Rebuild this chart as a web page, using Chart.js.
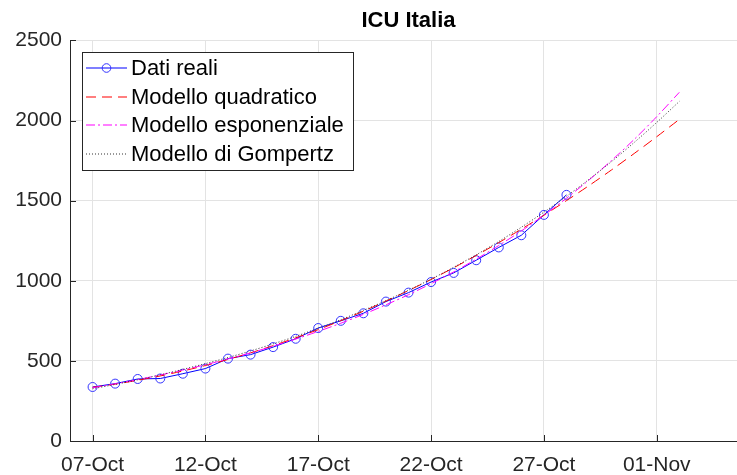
<!DOCTYPE html>
<html>
<head>
<meta charset="utf-8">
<title>ICU Italia</title>
<script src="https://cdn.jsdelivr.net/npm/chart.js@4"></script>
<style>
    html, body { margin: 0; padding: 0; background: #ffffff; overflow: hidden; }
    #wrap { width: 760px; height: 475px; }
</style>
</head>
<body>
<div id="wrap"><canvas id="icuChart" width="760" height="475"></canvas></div>
<script>
/* ===========================================
   DATA (day 0 = 07-Oct)
=========================================== */

const tickDays = [0, 5, 10, 15, 20, 25];
const tickLabels = ["07-Oct", "12-Oct", "17-Oct", "22-Oct", "27-Oct", "01-Nov"];
const yTicks = [0, 500, 1000, 1500, 2000, 2500];

// 07-Oct .. 28-Oct
const realValues = [
    337, 358, 387, 390, 420, 452, 514, 539, 586, 638, 705,
    750, 797, 870, 926, 992, 1049, 1128, 1208, 1284, 1411, 1536
];

// 07-Oct .. 02-Nov
const quadValues = [
    335, 355, 379, 406, 437, 471, 509, 550, 595, 644, 695, 751, 810, 873,
    939, 1008, 1081, 1158, 1238, 1322, 1409, 1500, 1594, 1692, 1794, 1899, 2007
];

const expValues = [
    332, 357, 383, 412, 443, 476, 512, 550, 592, 636, 684, 735, 790, 850,
    913, 982, 1055, 1135, 1220, 1311, 1409, 1515, 1629, 1751, 1882, 2024, 2176
];

const gompValues = [
    326, 353, 382, 413, 447, 483, 521, 562, 606, 653, 704, 757, 815, 876,
    941, 1010, 1084, 1162, 1245, 1334, 1428, 1527, 1633, 1744, 1863, 1988, 2119
];

const toPoints = (arr) => arr.map((v, i) => ({ x: i, y: v }));

/* ===========================================
   PLUGINS
=========================================== */

const axisColor = "#262626";
const fontFamily = "'Liberation Sans', Arial, Helvetica, sans-serif";

// MATLAB style inward tick marks
const innerTicks = {
    id: "innerTicks",
    afterDatasetsDraw(chart) {
        const ctx = chart.ctx;
        const area = chart.chartArea;
        const xs = chart.scales.x;
        const ys = chart.scales.y;
        ctx.save();
        ctx.strokeStyle = axisColor;
        ctx.lineWidth = 1;
        ctx.beginPath();
        tickDays.forEach((d) => {
            const px = Math.round(xs.getPixelForValue(d)) + 0.5;
            ctx.moveTo(px, area.bottom);
            ctx.lineTo(px, area.bottom - 6);
        });
        yTicks.forEach((v) => {
            const py = Math.round(ys.getPixelForValue(v)) + 0.5;
            ctx.moveTo(area.left, py);
            ctx.lineTo(area.left + 6, py);
        });
        ctx.stroke();
        ctx.restore();
    }
};

// boxed legend in the upper left corner
const boxLegend = {
    id: "boxLegend",
    afterDraw(chart) {
        const ctx = chart.ctx;
        const left = 82, top = 52, w = 271, h = 118;
        ctx.save();
        ctx.fillStyle = "#ffffff";
        ctx.fillRect(left, top, w, h);
        ctx.strokeStyle = axisColor;
        ctx.lineWidth = 1;
        ctx.strokeRect(left + 0.5, top + 0.5, w, h);

        ctx.font = "22px " + fontFamily;
        ctx.textBaseline = "middle";
        chart.data.datasets.forEach((ds, i) => {
            const y = Math.round(top + 16 + i * 28.5);
            ctx.strokeStyle = ds.borderColor;
            ctx.lineWidth = 1.1;
            ctx.setLineDash(ds.borderDash || []);
            ctx.beginPath();
            ctx.moveTo(86, y);
            ctx.lineTo(127, y);
            ctx.stroke();
            ctx.setLineDash([]);
            if (ds.pointRadius > 0) {
                ctx.strokeStyle = ds.pointBorderColor;
                ctx.lineWidth = 1;
                ctx.beginPath();
                ctx.arc(106.5, y, 4.3, 0, Math.PI * 2);
                ctx.stroke();
            }
            ctx.fillStyle = "#000000";
            ctx.fillText(ds.label, 131, y + 1);
        });
        ctx.restore();
    }
};

/* ===========================================
   CHART
=========================================== */

const icuChart = new Chart(

    document.getElementById("icuChart"),

    {
        type: "line",

        data: {
            datasets: [
                {
                    label: "Dati reali",
                    data: toPoints(realValues),
                    borderColor: "#0000ff",
                    borderWidth: 1,
                    pointRadius: 4.5,
                    pointBorderColor: "#3333ff",
                    pointBackgroundColor: "rgba(0,0,0,0)",
                    pointBorderWidth: 1,
                    tension: 0,
                    order: 4
                },
                {
                    label: "Modello quadratico",
                    data: toPoints(quadValues),
                    borderColor: "#ff0000",
                    borderWidth: 1,
                    borderDash: [10, 6],
                    pointRadius: 0,
                    tension: 0.3,
                    order: 3
                },
                {
                    label: "Modello esponenziale",
                    data: toPoints(expValues),
                    borderColor: "#ff00ff",
                    borderWidth: 1,
                    borderDash: [9, 3, 2, 3],
                    pointRadius: 0,
                    tension: 0.3,
                    order: 2
                },
                {
                    label: "Modello di Gompertz",
                    data: toPoints(gompValues),
                    borderColor: "#333333",
                    borderWidth: 1,
                    borderDash: [1, 2],
                    pointRadius: 0,
                    tension: 0.3,
                    order: 1
                }
            ]
        },

        options: {
            responsive: false,
            animation: false,
            layout: {
                padding: { left: 0, right: 13, top: 0, bottom: 0 }
            },
            plugins: {
                legend: { display: false },
                tooltip: { enabled: false },
                title: {
                    display: true,
                    text: "ICU Italia",
                    fullSize: false,
                    color: "#000000",
                    font: { family: fontFamily, size: 22, weight: "bold" },
                    padding: { top: 8, bottom: 6 }
                }
            },
            scales: {
                x: {
                    type: "linear",
                    min: -1,
                    max: 29,
                    afterBuildTicks(scale) {
                        scale.ticks = tickDays.map((d) => ({ value: d }));
                    },
                    afterFit(scale) {
                        scale.height = 34;
                    },
                    ticks: {
                        color: axisColor,
                        font: { family: fontFamily, size: 21 },
                        padding: 12,
                        maxRotation: 0,
                        autoSkip: false,
                        callback: (value) => tickLabels[tickDays.indexOf(value)]
                    },
                    grid: { color: "#e3e3e3", drawTicks: false },
                    border: { display: true, color: axisColor, width: 1 }
                },
                y: {
                    min: 0,
                    max: 2500,
                    afterBuildTicks(scale) {
                        scale.ticks = yTicks.map((v) => ({ value: v }));
                    },
                    afterFit(scale) {
                        scale.width = 70;
                    },
                    ticks: {
                        color: axisColor,
                        font: { family: fontFamily, size: 21 },
                        padding: 8,
                        callback: (value) => String(value)
                    },
                    grid: { color: "#e3e3e3", drawTicks: false },
                    border: { display: true, color: axisColor, width: 1 }
                }
            }
        },

        plugins: [innerTicks, boxLegend]
    }

);
</script>
</body>
</html>
